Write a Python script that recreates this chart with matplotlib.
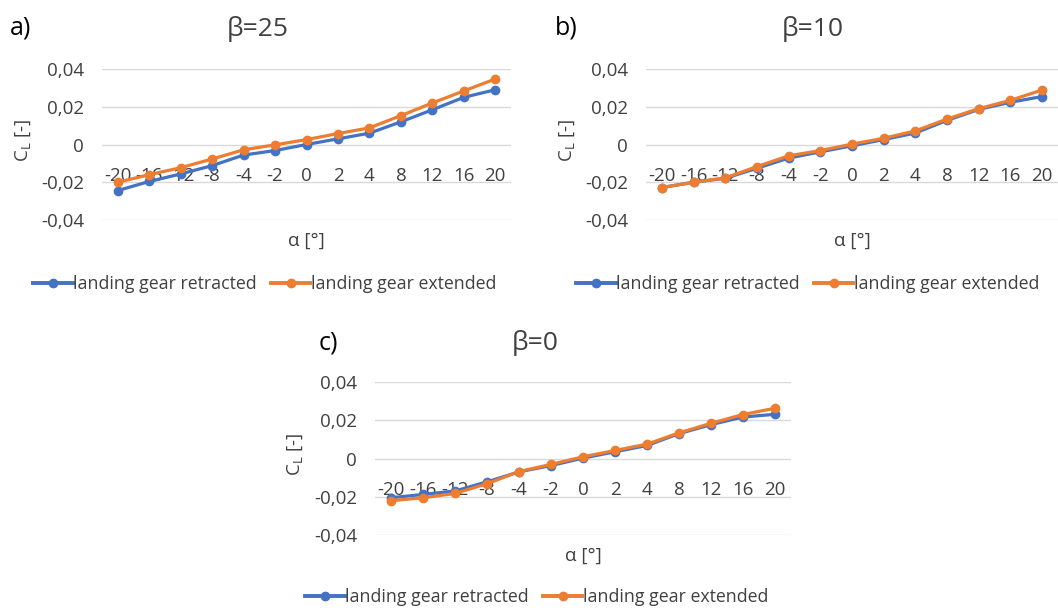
import matplotlib
matplotlib.use("Agg")
import matplotlib.pyplot as plt
from matplotlib.lines import Line2D

plt.rcParams['font.family'] = ['Open Sans', 'DejaVu Sans']

# angle of attack categories (evenly spaced on the axis)
alpha = ["-20", "-16", "-12", "-8", "-4", "-2", "0", "2", "4", "8", "12", "16", "20"]

# lift coefficient, beta = 25
cl_b25_retracted = [-0.0244, -0.0196, -0.0156, -0.0112, -0.0056, -0.0032, 0.0000,
                    0.0030, 0.0060, 0.0120, 0.0184, 0.0250, 0.0290]
cl_b25_extended = [-0.0200, -0.0160, -0.0123, -0.0077, -0.0028, -0.0002, 0.0026,
                   0.0058, 0.0088, 0.0153, 0.0220, 0.0284, 0.0347]

# lift coefficient, beta = 10
cl_b10_retracted = [-0.0228, -0.0200, -0.0179, -0.0126, -0.0072, -0.0039, -0.0007,
                    0.0026, 0.0061, 0.0128, 0.0186, 0.0224, 0.0254]
cl_b10_extended = [-0.0228, -0.0200, -0.0177, -0.0117, -0.0060, -0.0032, 0.0002,
                   0.0033, 0.0072, 0.0135, 0.0190, 0.0234, 0.0289]

# lift coefficient, beta = 0
cl_b0_retracted = [-0.0205, -0.0188, -0.0170, -0.0122, -0.0070, -0.0037, 0.0002,
                   0.0035, 0.0068, 0.0130, 0.0177, 0.0217, 0.0231]
cl_b0_extended = [-0.0221, -0.0205, -0.0183, -0.0132, -0.0068, -0.0031, 0.0009,
                  0.0042, 0.0075, 0.0134, 0.0184, 0.0230, 0.0263]

yticks = [-0.04, -0.02, 0, 0.02, 0.04]
ytick_labels = ["-0,04", "-0,02", "0", "0,02", "0,04"]

BLUE = "#4472C4"
ORANGE = "#ED7D31"
GRID = "#D9D9D9"
TXT = "#404040"
FS = 13.5

W, H = 1058, 610
fig = plt.figure(figsize=(W / 100, H / 100), dpi=100)


def px(x, y):
    return x / W, 1 - y / H


# (tag, title, retracted, extended, axes box in px, tag pos, title pos, legend centre, ylabel x)
panels = [
    ("a)", "β=25", cl_b25_retracted, cl_b25_extended,
     (102, 69, 409, 151), (10, 28), (258, 29), (265, 284), 23),
    ("b)", "β=10", cl_b10_retracted, cl_b10_extended,
     (646, 69, 412, 151), (555, 28), (813, 29), (808, 284), 567),
    ("c)", "β=0", cl_b0_retracted, cl_b0_extended,
     (375, 382, 416, 153), (319, 343), (535, 343), (537, 597), 295),
]

for tag, title, ret, ext, box, tagpos, titlepos, legpos, ylab_x in panels:
    x0, y0, w, h = box
    ax = fig.add_axes([x0 / W, 1 - (y0 + h) / H, w / W, h / H])
    xs = range(len(alpha))
    ax.plot(xs, ret, color=BLUE, lw=2.3, marker="o", ms=6, zorder=3)
    ax.plot(xs, ext, color=ORANGE, lw=2.3, marker="o", ms=6, zorder=4)

    ax.set_xlim(-0.5, len(alpha) - 0.5)
    ax.set_ylim(-0.04, 0.04)
    ax.set_yticks(yticks)
    ax.set_yticklabels(ytick_labels)
    ax.set_xticks(list(xs))
    ax.set_xticklabels(alpha)
    ax.grid(axis="y", color=GRID, lw=1.0, zorder=0)
    for s in ["top", "right", "left"]:
        ax.spines[s].set_visible(False)
    # category axis crosses at zero
    ax.spines["bottom"].set_position(("data", 0))
    ax.spines["bottom"].set_visible(False)
    ax.tick_params(axis="both", length=0, labelsize=FS, colors=TXT)
    ax.tick_params(axis="y", pad=13)
    ax.tick_params(axis="x", pad=16)
    ax.patch.set_alpha(0)

    ax.set_xlabel("α [°]", fontsize=FS, color=TXT)
    ax.xaxis.set_label_coords(0.5, -0.08)
    fig.text(*px(ylab_x, y0 + h / 2 - 4), "C$_\\mathregular{L}$ [-]", rotation=90,
             ha="center", va="center", fontsize=FS, color=TXT)

    fig.text(*px(*tagpos), tag, fontsize=18, ha="left", va="center", color="black")
    fig.text(*px(*titlepos), title, fontsize=19, ha="center", va="center", color=TXT)

    handles = [Line2D([], [], color=BLUE, lw=2.8, marker="o", ms=6),
               Line2D([], [], color=ORANGE, lw=2.8, marker="o", ms=6)]
    fig.legend(handles, ["landing gear retracted", "landing gear extended"],
               loc="center", bbox_to_anchor=px(*legpos), ncol=2, frameon=False,
               fontsize=12.8, handlelength=2.2, handletextpad=0.05,
               columnspacing=0.8, labelcolor=TXT)

fig.savefig("out.png", dpi=100, facecolor="white")
